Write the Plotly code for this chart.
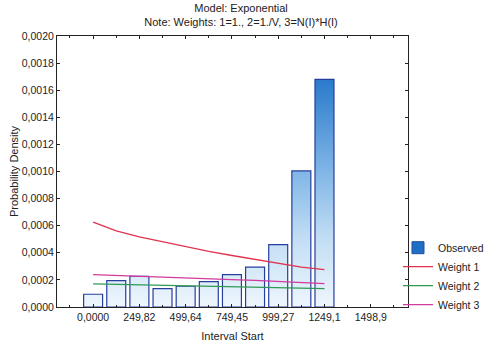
import plotly.graph_objects as go

interval_start = [0, 124.91, 249.82, 374.73, 499.64, 624.55, 749.45, 874.36, 999.27, 1124.18, 1249.09]
observed = [0.000094, 0.000195, 0.000227, 0.000136, 0.000153, 0.000187, 0.000239, 0.000295, 0.000460, 0.001004, 0.001680]
weight1 = [0.000627, 0.000561, 0.000517, 0.000480, 0.000443, 0.000411, 0.000380, 0.000350, 0.000320, 0.000295, 0.000276]
weight2 = [0.000170, 0.000167, 0.000163, 0.000159, 0.000156, 0.000153, 0.000149, 0.000146, 0.000143, 0.000139, 0.000136]
weight3 = [0.000239, 0.000232, 0.000226, 0.000220, 0.000214, 0.000208, 0.000202, 0.000196, 0.000188, 0.000180, 0.000173]
x_tickvals = [0, 249.82, 499.64, 749.45, 999.27, 1249.1, 1498.9]
x_ticktext = ["0,0000", "249,82", "499,64", "749,45", "999,27", "1249,1", "1498,9"]

bar_w = 0.82 * (interval_start[1] - interval_start[0])
fig = go.Figure()

for xs, h in zip(interval_start, observed):
    x0, x1 = xs - bar_w / 2, xs + bar_w / 2
    fig.add_trace(go.Scatter(
        x=[x0, x0, x1, x1, x0], y=[0, h, h, 0, 0],
        mode="lines", fill="toself",
        line=dict(color="#263f9e", width=1.2),
        fillgradient=dict(type="vertical", start=0, stop=max(observed),
                          colorscale=[[0, "#eef6fd"], [0.3, "#c2def4"], [0.6, "#7fb5e6"], [1, "#2a7acb"]]),
        showlegend=False, hoverinfo="skip"))

fig.add_trace(go.Bar(x=[None], y=[None], name="Observed",
                     marker=dict(color="#1f6fc4", line=dict(color="#1f4fa0", width=1))))
fig.add_trace(go.Scatter(x=interval_start, y=weight1, mode="lines", name="Weight 1",
                         line=dict(color="#e0334f", width=1.3)))
fig.add_trace(go.Scatter(x=interval_start, y=weight2, mode="lines", name="Weight 2",
                         line=dict(color="#2e9a52", width=1.3)))
fig.add_trace(go.Scatter(x=interval_start, y=weight3, mode="lines", name="Weight 3",
                         line=dict(color="#d23a9e", width=1.3)))

fig.update_layout(
    width=484, height=343,
    margin=dict(l=57, r=76, t=36, b=36, autoexpand=False),
    paper_bgcolor="white", plot_bgcolor="white",
    separators=",.",
    font=dict(family="Liberation Sans, Arial, sans-serif", size=10, color="#222"),
    title=dict(text="Model: Exponential<br>Note: Weights: 1=1., 2=1./V, 3=N(I)*H(I)",
               x=0.498, xanchor="center", xref="container", yref="container",
               y=0.965, yanchor="top",
               font=dict(size=11, color="#222")),
    showlegend=True,
    legend=dict(xref="paper", yref="paper", x=0.9715, xanchor="left",
                y=-0.045, yanchor="bottom",
                bgcolor="rgba(0,0,0,0)", font=dict(size=10.5, color="#222"),
                tracegroupgap=0, itemwidth=30),
    xaxis=dict(range=[-195, 1700], tickvals=x_tickvals, ticktext=x_ticktext,
               showgrid=False, zeroline=False, showline=True, linecolor="#222", linewidth=1,
               mirror="ticks", ticks="inside", ticklen=3, tickcolor="#222",
               minor=dict(dtick=124.91, tick0=0, ticks="inside", ticklen=2, tickcolor="#222"),
               title=dict(text="Interval Start", font=dict(size=11), standoff=10),
               tickfont=dict(size=10.5)),
    yaxis=dict(range=[0, 0.002], dtick=0.0002, tickformat=".4f",
               showgrid=False, zeroline=False, showline=True, linecolor="#222", linewidth=1,
               mirror="ticks", ticks="inside", ticklen=3, tickcolor="#222",
               title=dict(text="Probability Density", font=dict(size=11), standoff=0),
               tickfont=dict(size=10.5)),
)

fig.write_html("out.html", config={"displayModeBar": False},
               post_script="document.body.style.margin='0';document.body.style.overflow='hidden';")
